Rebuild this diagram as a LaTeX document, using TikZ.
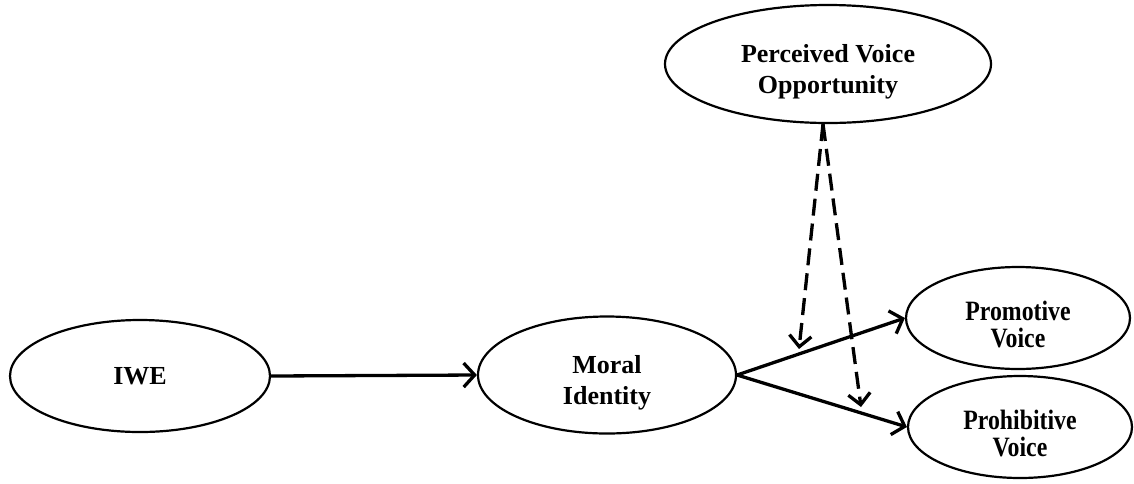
\documentclass[tikz,border=0pt]{standalone}
\usepackage{fontspec}
\usepackage{graphicx}
\setmainfont{Liberation Serif}
\usetikzlibrary{shapes.geometric,arrows.meta}
\newcommand{\liftA}{\rule{0pt}{34pt}}
\newcommand{\liftB}{\rule{0pt}{32pt}}
\begin{document}
\begin{tikzpicture}[x=1pt,y=-1pt,
  var/.style={ellipse,draw,line width=2.2pt,inner sep=0pt,align=center,
    font=\fontsize{26}{31}\selectfont\bfseries},
  smallvar/.style={ellipse,draw,line width=2.2pt,inner sep=0pt,align=center,
    font=\fontsize{28}{27}\selectfont\bfseries,minimum width=224pt,minimum height=102pt},
  effect/.style={line width=3.3pt,-{Straight Barb[length=11pt,width=24pt,line width=3.3pt]}},
  moderation/.style={line width=3.3pt,dash pattern=on 17pt off 8pt,
    -{Straight Barb[length=11pt,width=22pt,line width=3.3pt]}}
]
\useasboundingbox (0,0) rectangle (1134,483);
\node[var,minimum width=260pt,minimum height=112pt] (iwe) at (140,376) {IWE};
\node[var,minimum width=258pt,minimum height=117pt] (mi) at (607,375) {\liftA Moral\\Identity};
\node[var,minimum width=326pt,minimum height=118pt] (pvo) at (828,64) {\liftA Perceived Voice\\Opportunity};
\node[smallvar] (pro) at (1018,318) {\liftB\scalebox{0.85}[1]{Promotive}\\\scalebox{0.85}[1]{Voice}};
\node[smallvar] (proh) at (1020,427) {\liftB\scalebox{0.85}[1]{Prohibitive}\\\scalebox{0.85}[1]{Voice}};
\draw[effect] (iwe.east) -- (mi.west);
\draw[effect] (mi.east) -- (pro.west);
\draw[effect] (mi.east) -- (proh.west);
\coordinate (m1) at (799,349);
\coordinate (m2) at (861,407);
\draw[moderation] ([xshift=-5pt]pvo.south) -- (m1);
\draw[moderation] ([xshift=-5pt]pvo.south) -- (m2);
\end{tikzpicture}
\end{document}
